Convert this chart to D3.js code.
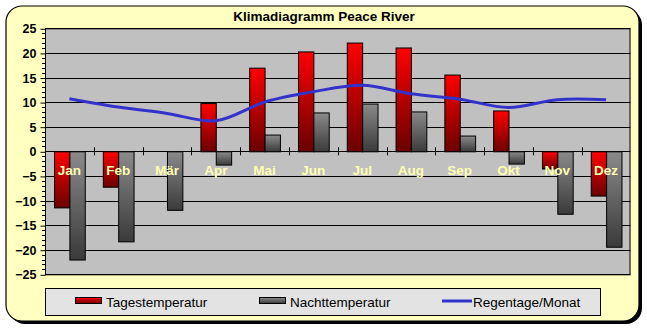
<!DOCTYPE html>
<html><head><meta charset="utf-8">
<script src="https://cdn.jsdelivr.net/npm/d3@7"></script>
<style>html,body{margin:0;padding:0;background:#fff;}svg{display:block;}</style>
</head><body>
<script>
const months = ["Jan","Feb","Mär","Apr","Mai","Jun","Jul","Aug","Sep","Okt","Nov","Dez"];
const tagesTemp = [-11.4,-7.2,0,9.8,17.0,20.3,22.1,21.1,15.6,8.3,-3.5,-9.0];
const nachtTemp = [-22.0,-18.3,-11.9,-2.7,3.4,7.9,9.7,8.1,3.2,-2.5,-12.7,-19.4];
const regentage = [10.7,9.0,7.7,6.2,10.0,12.1,13.4,11.7,10.6,8.9,10.5,10.5];
const yTicks = [25,20,15,10,5,0,-5,-10,-15,-20,-25];
const seriesNames = ["Tagestemperatur","Nachttemperatur","Regentage/Monat"];
const titleText = "Klimadiagramm Peace River";

const W = 647, H = 330;
const svg = d3.select("body").append("svg").attr("width", W).attr("height", H);
const defs = svg.append("defs");
function grad(id, c1, c2){
  const g = defs.append("linearGradient").attr("id", id).attr("x1",0).attr("y1",0).attr("x2",0).attr("y2",1);
  g.append("stop").attr("offset","0%").attr("stop-color",c1);
  g.append("stop").attr("offset","100%").attr("stop-color",c2);
}
grad("gRed","#ff0000","#6a0000");
grad("gGray","#8a8a8a","#3a3a3a");

// frame with shadow
svg.append("rect").attr("x",9).attr("y",9).attr("width",633).attr("height",315).attr("rx",16).attr("fill","#000");
svg.append("rect").attr("x",6).attr("y",6).attr("width",633).attr("height",315).attr("rx",16)
  .attr("fill","#ffffc0").attr("stroke","#000").attr("stroke-width",1.2);

svg.append("text").attr("x",324).attr("y",21).attr("text-anchor","middle")
  .attr("font-family","Liberation Sans, Arial, sans-serif").attr("font-weight","bold").attr("font-size",13.5)
  .text(titleText);

const L = 45, R = 630.5, T = 28.3, B = 274.3;
const x = d3.scaleBand().domain(months).range([L,R]).paddingInner(0.37).paddingOuter(0.185);
const xc = d3.scaleBand().domain(months).range([L,R]);
const y = d3.scaleLinear().domain([-25,25]).range([B,T]);

const g = svg.append("g");
g.append("rect").attr("x",L).attr("y",T).attr("width",R-L).attr("height",B-T).attr("fill","#c0c0c0");
// gridlines
g.selectAll(".grid").data(yTicks).join("line")
  .attr("x1",L).attr("x2",R).attr("y1",d=>Math.round(y(d))+0.5).attr("y2",d=>Math.round(y(d))+0.5)
  .attr("stroke","#000").attr("stroke-width",1);

// bars
const bw = x.bandwidth()/2;
function bars(data, fill, off){
  g.selectAll(null).data(data.map((v,i)=>({v,m:months[i]}))).join("rect")
    .filter(d=>d.v!==0)
    .attr("x",d=>x(d.m)+off*bw+0.5)
    .attr("y",d=>Math.min(y(d.v),y(0))+0.5)
    .attr("width",bw)
    .attr("height",d=>Math.abs(y(d.v)-y(0)))
    .attr("fill",fill).attr("stroke","#000").attr("stroke-width",1);
}
bars(tagesTemp,"url(#gRed)",0);
bars(nachtTemp,"url(#gGray)",1);

// plot border
g.append("rect").attr("x",L+0.5).attr("y",T+0.5).attr("width",R-L-1).attr("height",B-T).attr("fill","none").attr("stroke","#000");

// y axis with minor ticks
const yAxis = d3.axisLeft(y).tickValues(yTicks).tickSize(5).tickPadding(4).tickFormat(d3.format("d"));
const ya = svg.append("g").attr("transform",`translate(${L+0.5},0.5)`).call(yAxis);
ya.select(".domain").remove();
ya.selectAll("line").attr("stroke","#000");
ya.selectAll("text").attr("font-family","Liberation Sans, Arial, sans-serif").attr("font-weight","bold").attr("font-size",12.5).attr("fill","#000");
const minor = d3.range(-25,26,1).filter(v=>v%5!==0);
svg.append("g").selectAll("line").data(minor).join("line")
  .attr("x1",L-3).attr("x2",L).attr("y1",d=>Math.round(y(d))+0.5).attr("y2",d=>Math.round(y(d))+0.5).attr("stroke","#000");
svg.append("line").attr("x1",L+0.5).attr("x2",L+0.5).attr("y1",T).attr("y2",B+0.5).attr("stroke","#000");

// x axis at zero: ticks between categories
const xTickPos = months.slice(1).map(m=>xc(m));
svg.append("g").selectAll("line").data(xTickPos).join("line")
  .attr("x1",d=>Math.round(d)+0.5).attr("x2",d=>Math.round(d)+0.5)
  .attr("y1",y(0)-4).attr("y2",y(0)+4).attr("stroke","#000");

// month labels
svg.append("g").selectAll("text").data(months).join("text")
  .attr("x",d=>xc(d)+xc.bandwidth()/2).attr("y",175)
  .attr("text-anchor","middle").attr("font-family","Liberation Sans, Arial, sans-serif")
  .attr("font-weight","bold").attr("font-size",13.5).attr("fill","#ffffb0").text(d=>d);

// line
const line = d3.line().x((d,i)=>xc(months[i])+xc.bandwidth()/2).y(d=>y(d)).curve(d3.curveCatmullRom.alpha(0.5));
svg.append("path").datum(regentage).attr("d",line).attr("fill","none").attr("stroke","#3333cc").attr("stroke-width",3);

// legend
const lg = svg.append("g");
lg.append("rect").attr("x",45.5).attr("y",288.5).attr("width",555).attr("height",27).attr("fill","#e3e3e3").attr("stroke","#000");
const fontL = "Liberation Sans, Arial, sans-serif";
lg.append("rect").attr("x",75.5).attr("y",297.5).attr("width",26).attr("height",6).attr("fill","url(#gRed)").attr("stroke","#000");
lg.append("text").attr("x",106).attr("y",306.5).attr("font-family",fontL).attr("font-size",13.5).text(seriesNames[0]);
lg.append("rect").attr("x",259.5).attr("y",297.5).attr("width",26).attr("height",6).attr("fill","url(#gGray)").attr("stroke","#000");
lg.append("text").attr("x",290).attr("y",306.5).attr("font-family",fontL).attr("font-size",13.5).text(seriesNames[1]);
lg.append("line").attr("x1",442).attr("x2",472).attr("y1",301).attr("y2",301).attr("stroke","#3333cc").attr("stroke-width",3);
lg.append("text").attr("x",473).attr("y",306.5).attr("font-family",fontL).attr("font-size",13.5).text(seriesNames[2]);
</script>
</body></html>
